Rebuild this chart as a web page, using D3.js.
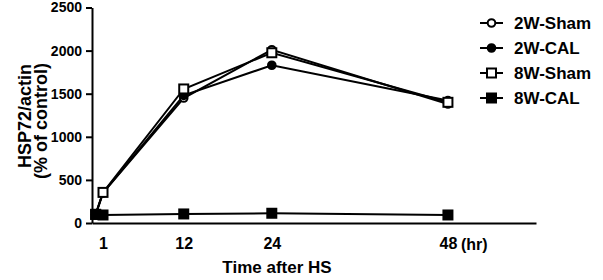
<!DOCTYPE html>
<html>
<head>
<meta charset="utf-8">
<script src="https://cdn.jsdelivr.net/npm/d3@7/dist/d3.min.js"></script>
<style>
  body { margin: 0; background: #fff; }
  svg text { font-family: "Liberation Sans", Arial, sans-serif; font-weight: bold; fill: #000; }
</style>
</head>
<body>
<div id="chart"></div>
<script>
// hours after heat shock
const times = [0, 1, 12, 24, 48];
const xTicks = [1, 12, 24, 48];
const yTicks = [0, 500, 1000, 1500, 2000, 2500];

const groups = ["2W-Sham", "2W-CAL", "8W-Sham", "8W-CAL"];
const sham2w = [100, 350, 1450, 2010, 1380];
const cal2w  = [100, 350, 1480, 1830, 1420];
const sham8w = [100, 355, 1555, 1975, 1400];
const cal8w  = [100, 93, 105, 113, 93];

const series = [
  { name: groups[0], values: sham2w, shape: "circle", filled: false },
  { name: groups[1], values: cal2w,  shape: "circle", filled: true },
  { name: groups[2], values: sham8w, shape: "square", filled: false },
  { name: groups[3], values: cal8w,  shape: "square", filled: true }
];

const W = 603, H = 280;
const svg = d3.select("#chart").append("svg")
  .attr("width", W).attr("height", H);

const x = d3.scaleLinear().domain([-0.5, 60]).range([92, 536]);
const y = d3.scaleLinear().domain([0, 2500]).range([223, 7.5]);

// y axis
const yAxis = svg.append("g")
  .attr("transform", "translate(" + x(-0.5) + ",0)")
  .call(d3.axisLeft(y).tickValues(yTicks).tickFormat(d3.format("d"))
    .tickSize(6).tickSizeOuter(0).tickPadding(4));
yAxis.selectAll("path, line").attr("stroke", "#000").attr("stroke-width", 2);
yAxis.selectAll("text").style("font-size", "14px");

// x axis
const xAxis = svg.append("g")
  .attr("transform", "translate(0," + y(0) + ")")
  .call(d3.axisBottom(x).tickValues(xTicks).tickSize(0).tickSizeOuter(0).tickPadding(15));
xAxis.selectAll("path").attr("stroke", "#000").attr("stroke-width", 2);
xAxis.selectAll("text").style("font-size", "16px");

svg.append("text")
  .attr("x", x(48) + 13)
  .attr("y", y(0) + 27)
  .style("font-size", "16px")
  .text("(hr)");

// axis titles
svg.append("text")
  .attr("text-anchor", "middle")
  .attr("x", 277).attr("y", 273)
  .style("font-size", "17px")
  .text("Time after HS");

svg.append("text")
  .attr("text-anchor", "middle")
  .attr("transform", "translate(31,116) rotate(-90)")
  .style("font-size", "18px")
  .text("HSP72/actin");
svg.append("text")
  .attr("text-anchor", "middle")
  .attr("transform", "translate(47,121) rotate(-90)")
  .style("font-size", "18px")
  .text("(% of control)");

// lines
const line = d3.line().x((d, i) => x(times[i])).y(d => y(d));
series.forEach(s => {
  svg.append("path")
    .datum(s.values)
    .attr("d", line)
    .attr("fill", "none")
    .attr("stroke", "#000")
    .attr("stroke-width", 2);
});

function drawMarker(g, shape, filled, cx, cy) {
  if (shape === "circle") {
    g.append("circle")
      .attr("cx", cx).attr("cy", cy).attr("r", 3.8)
      .attr("fill", filled ? "#000" : "#fff")
      .attr("stroke", "#000").attr("stroke-width", 2);
  } else {
    g.append("rect")
      .attr("x", cx - 4.5).attr("y", cy - 4.5)
      .attr("width", 9).attr("height", 9)
      .attr("fill", filled ? "#000" : "#fff")
      .attr("stroke", "#000").attr("stroke-width", 2);
  }
}

// markers
series.forEach(s => {
  const g = svg.append("g");
  s.values.forEach((v, i) => drawMarker(g, s.shape, s.filled, x(times[i]), y(v)));
});

// legend
const legend = svg.append("g");
series.forEach((s, i) => {
  const ly = 23 + i * 25;
  legend.append("line")
    .attr("x1", 480).attr("x2", 503)
    .attr("y1", ly).attr("y2", ly)
    .attr("stroke", "#000").attr("stroke-width", 2);
  drawMarker(legend, s.shape, s.filled, 491.5, ly);
  legend.append("text")
    .attr("x", 514).attr("y", ly + 6)
    .style("font-size", "17px")
    .text(s.name);
});
</script>
</body>
</html>
